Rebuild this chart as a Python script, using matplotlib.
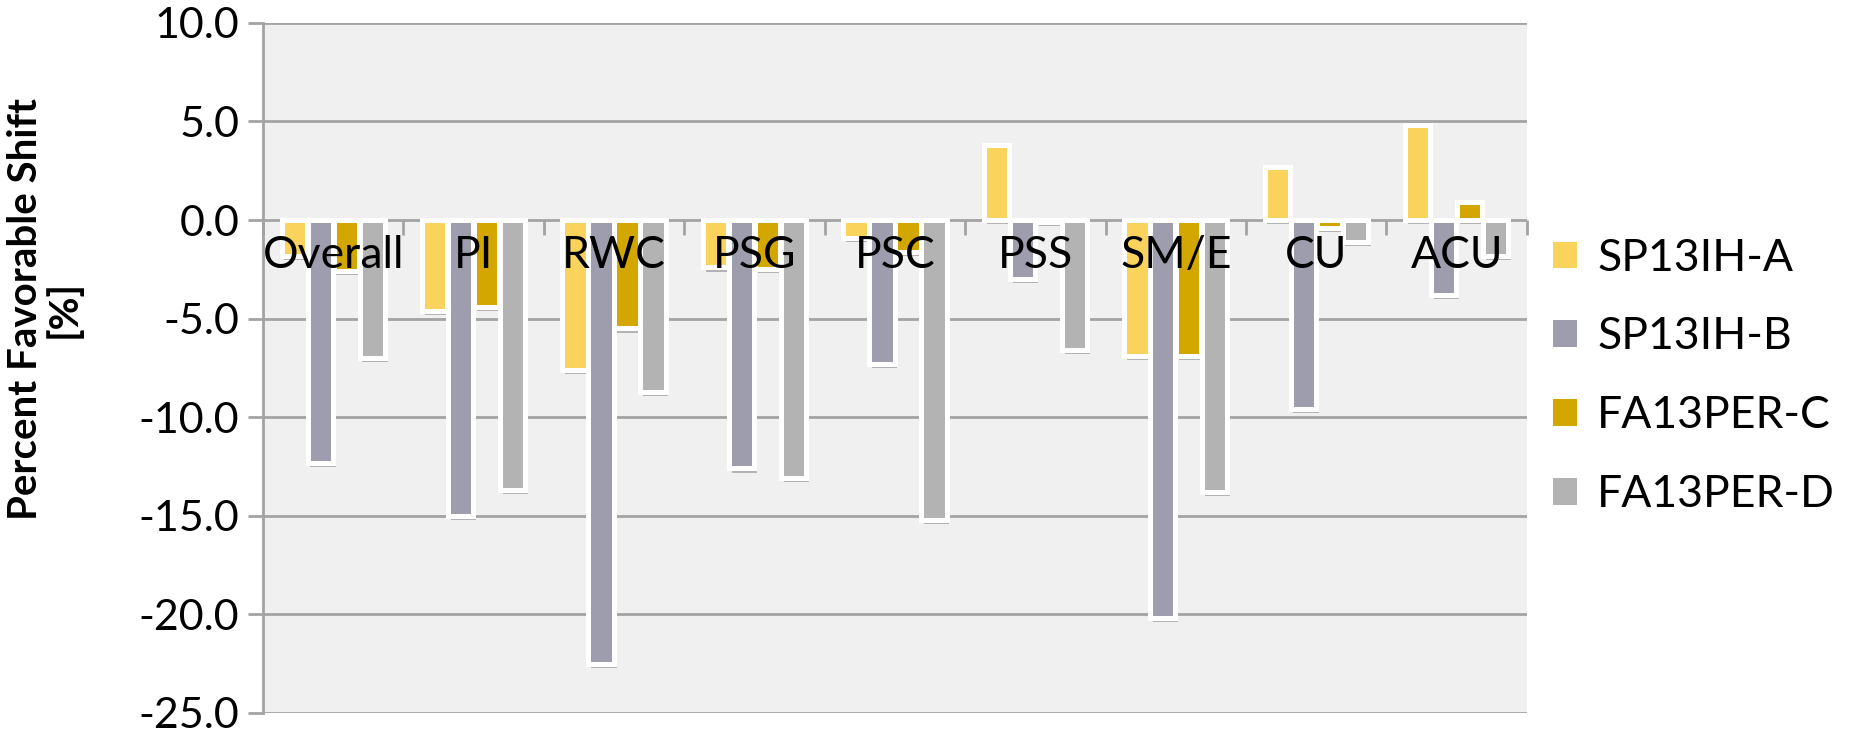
import matplotlib
matplotlib.use("Agg")
import numpy as np
import matplotlib.pyplot as plt
import matplotlib.patheffects as pe
from matplotlib.patches import Patch


# ========================================
# DATA
# ========================================
categories = ["Overall", "PI", "RWC", "PSG", "PSC", "PSS", "SM/E", "CU", "ACU"]

series_names = ["SP13IH-A", "SP13IH-B", "FA13PER-C", "FA13PER-D"]

sp13ih_a = [-1.8, -4.6, -7.6, -2.4, -0.9, 3.8, -6.9, 2.7, 4.8]
sp13ih_b = [-12.3, -15.0, -22.5, -12.6, -7.3, -3.0, -20.2, -9.6, -3.8]
fa13per_c = [-2.6, -4.4, -5.5, -2.5, -1.6, -0.1, -6.9, -0.4, 0.9]
fa13per_d = [-7.0, -13.7, -8.7, -13.1, -15.2, -6.6, -13.8, -1.1, -1.8]

series_values = [sp13ih_a, sp13ih_b, fa13per_c, fa13per_d]

colors = ["#F9D35B", "#9E9DAE", "#D4A700", "#B3B3B3"]

y_ticks = [10, 5, 0, -5, -10, -15, -20, -25]


# ========================================
# STYLE
# ========================================
plt.rcParams["font.family"] = ["Lato", "DejaVu Sans"]
plt.rcParams["axes.unicode_minus"] = False

grid_color = "#A3A3A3"


# ========================================
# FIGURE
# ========================================
fig = plt.figure(figsize=(18.56, 7.38), dpi=100)
ax = fig.add_axes([0.1417, 0.034, 0.681, 0.935])
ax.set_facecolor("#F0F0F0")

x = np.arange(len(categories))
pitch = 0.185
offsets = (np.arange(len(series_names)) - 1.5) * pitch

shadow = [
    pe.SimplePatchShadow(offset=(2, -3), shadow_rgbFace="black", alpha=0.25),
    pe.Normal(),
]

for values, color, off in zip(series_values, colors, offsets):
    bars = ax.bar(
        x + off,
        values,
        width=0.18,
        color=color,
        edgecolor="white",
        linewidth=3.6,
        zorder=2,
    )
    for b in bars:
        b.set_path_effects(shadow)


# ========================================
# AXES
# ========================================
ax.set_xlim(-0.5, len(categories) - 0.5)
ax.set_ylim(-25, 10)

ax.set_yticks(y_ticks)
ax.set_yticklabels([f"{v:.1f}" for v in y_ticks], fontsize=31)
ax.yaxis.grid(True, color=grid_color, linewidth=2)
ax.tick_params(axis="y", length=11, width=2, color=grid_color, pad=6)

ax.spines["top"].set_visible(False)
ax.spines["right"].set_visible(False)
ax.spines["left"].set_color(grid_color)
ax.spines["left"].set_linewidth(2)
ax.spines["bottom"].set_position(("data", 0))
ax.spines["bottom"].set_visible(False)

ax.set_xticks(x)
ax.set_xticklabels(categories, fontsize=32)
ax.set_xticks(np.arange(len(categories) + 1) - 0.5, minor=True)
ax.tick_params(axis="x", which="major", length=0, pad=11)
ax.tick_params(axis="x", which="minor", length=11, width=2, color=grid_color)

ax.set_axisbelow(True)
ax.xaxis.set_zorder(4)

ax.set_ylabel(
    "Percent Favorable Shift\n[%]",
    fontsize=29,
    fontweight="bold",
    multialignment="center",
    linespacing=1.0,
)
ax.yaxis.set_label_coords(-0.143, 0.585)


# ========================================
# LEGEND
# ========================================
handles = [Patch(facecolor=c, edgecolor="none") for c in colors]
fig.legend(
    handles,
    series_names,
    loc="center left",
    bbox_to_anchor=(0.815, 0.49),
    frameon=False,
    fontsize=32,
    handlelength=0.55,
    handleheight=0.55,
    handletextpad=0.45,
    labelspacing=0.85,
)

fig.savefig("out.png", dpi=100)
